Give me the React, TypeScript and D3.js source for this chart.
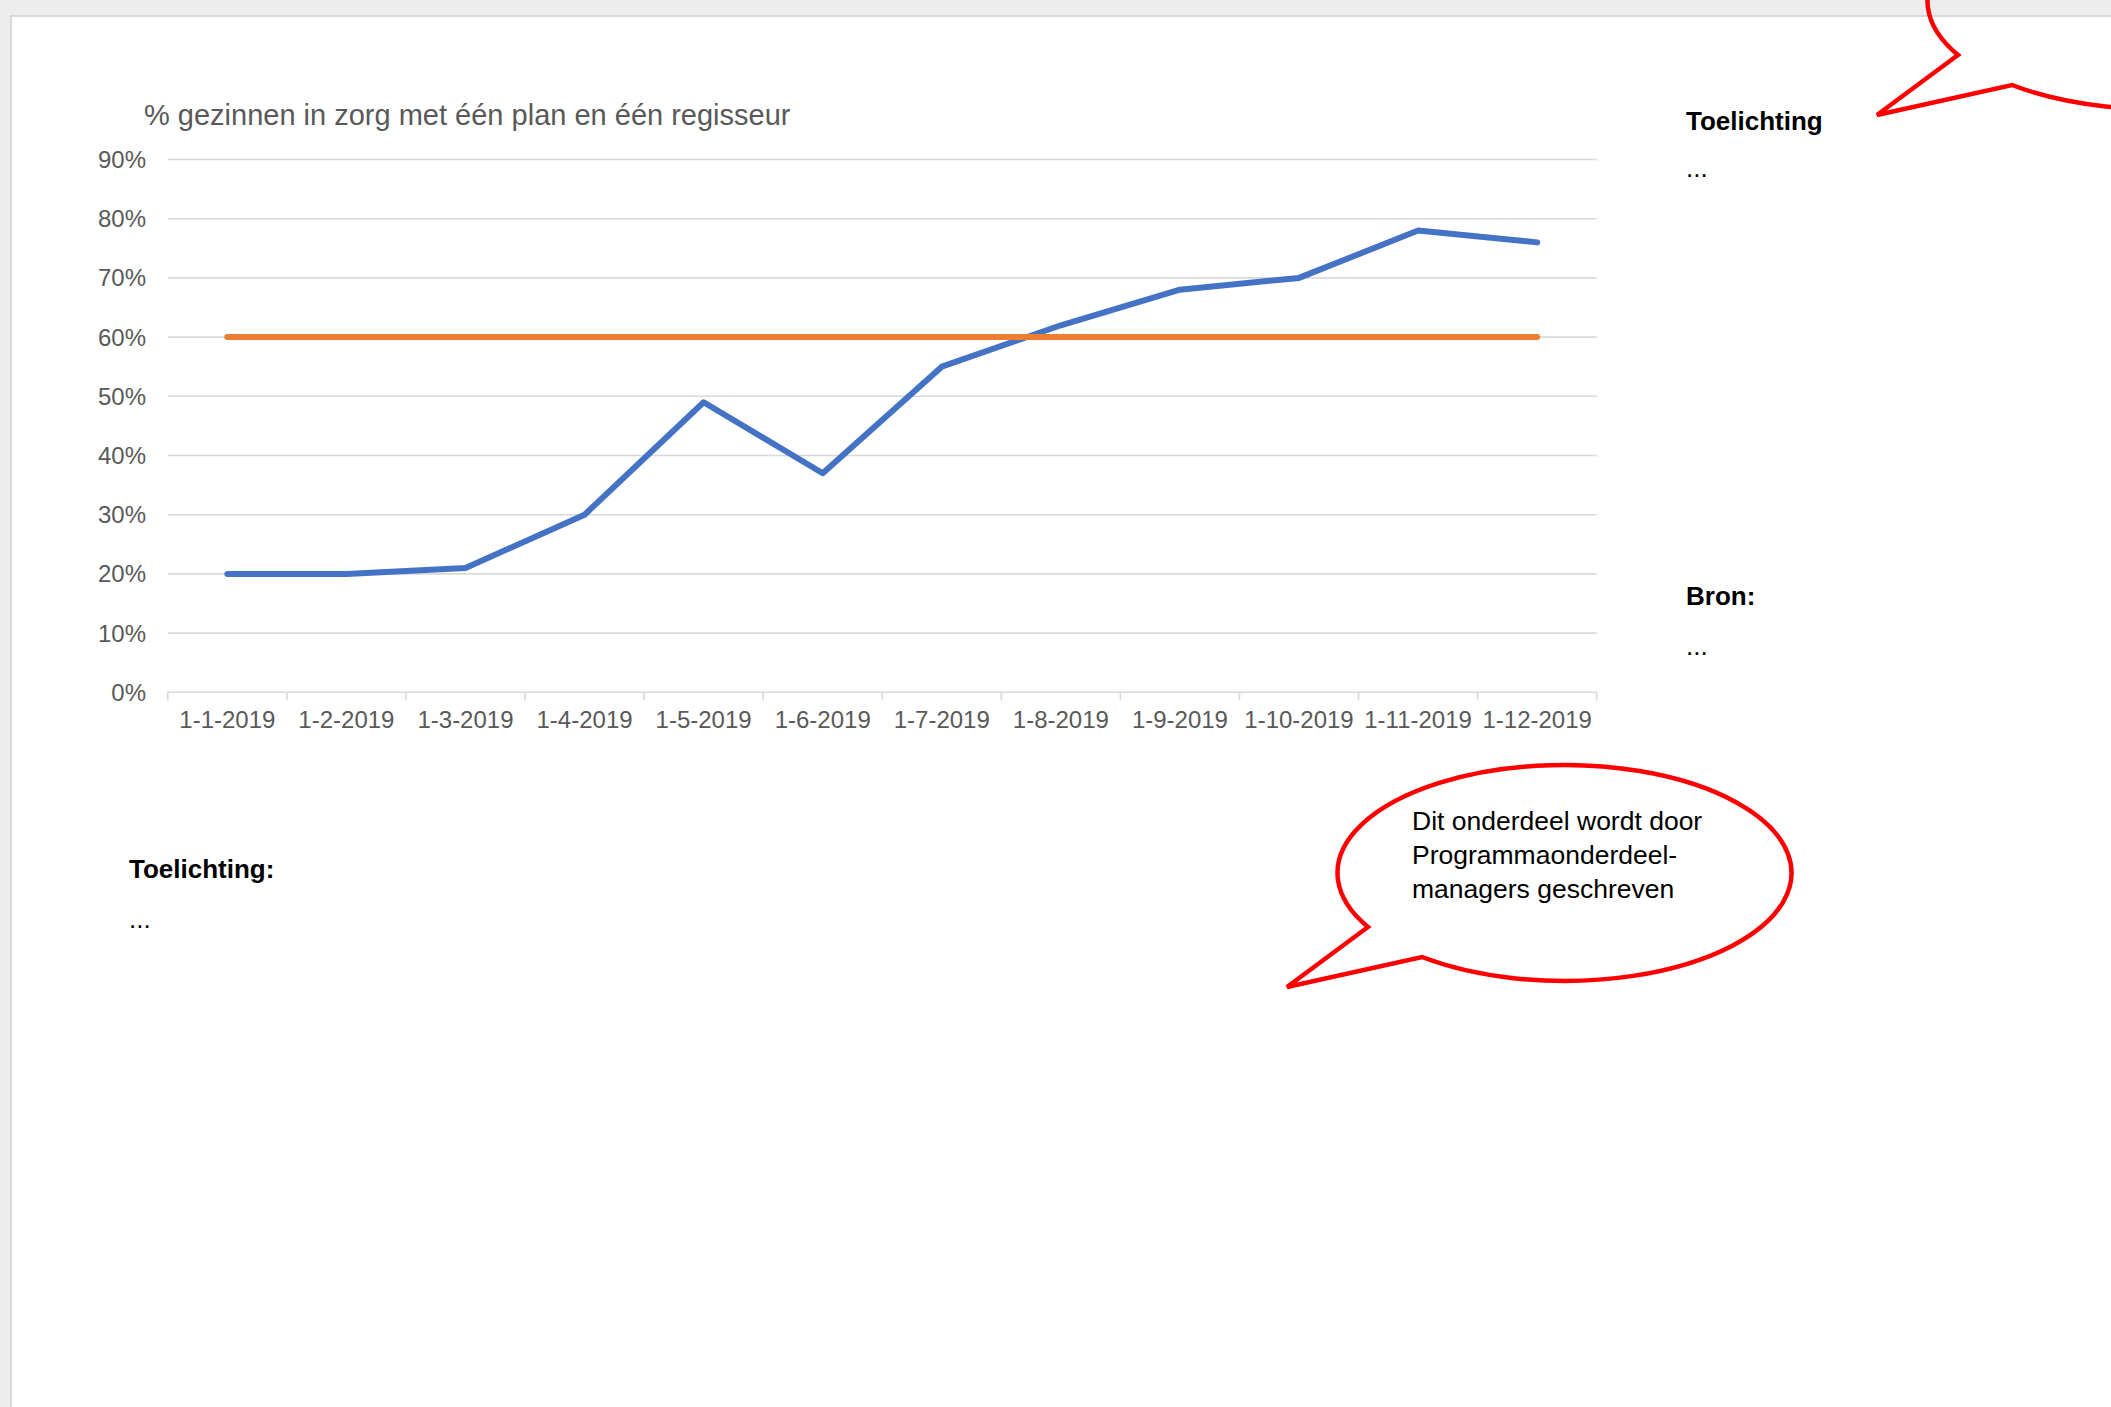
import React from 'react';
import * as d3 from 'd3';

const months = [
	'1-1-2019',
	'1-2-2019',
	'1-3-2019',
	'1-4-2019',
	'1-5-2019',
	'1-6-2019',
	'1-7-2019',
	'1-8-2019',
	'1-9-2019',
	'1-10-2019',
	'1-11-2019',
	'1-12-2019',
];
const actual = [0.2, 0.2, 0.21, 0.3, 0.49, 0.37, 0.55, 0.62, 0.68, 0.7, 0.78, 0.76];
const target = [0.6, 0.6, 0.6, 0.6, 0.6, 0.6, 0.6, 0.6, 0.6, 0.6, 0.6, 0.6];
const yTicks = [0, 0.1, 0.2, 0.3, 0.4, 0.5, 0.6, 0.7, 0.8, 0.9];

const W = 2111;
const H = 1407;
const FONT = '"Liberation Sans", Arial, sans-serif';
const GREY_TEXT = '#595959';
const GRID = '#D9D9D9';

// speech bubble: ellipse with a tail, tail points relative to the centre
const bubblePath = (cx: number, cy: number, rx: number, ry: number) => {
	const b1 = [cx - 193, cy + 54];
	const b2 = [cx - 139, cy + 84];
	const tip = [cx - 274, cy + 114];
	return `M${b2[0]},${b2[1]} A${rx},${ry} 0 1 0 ${b1[0]},${b1[1]} L${tip[0]},${tip[1]} Z`;
};

const App: React.FC = () => {
	const margin = { left: 167.8, right: W - 1596.7, top: 159.5, bottom: H - 692.3 };

	const x = d3
		.scaleBand<string>()
		.domain(months)
		.range([margin.left, W - margin.right])
		.padding(0);
	const y = d3
		.scaleLinear()
		.domain([0, 0.9])
		.range([H - margin.bottom, margin.top]);

	const cx = (i: number) => (x(months[i]) ?? 0) + x.bandwidth() / 2;
	const line = d3
		.line<number>()
		.x((_, i) => cx(i))
		.y((d) => y(d));

	const x0 = margin.left;
	const x1 = W - margin.right;
	const yBase = y(0);
	// tick marks on band edges
	const tickXs = [...months.map((m) => x(m) ?? 0), x1];

	return (
		<div style={{ position: 'absolute', left: 0, top: 0, width: W, height: H }}>
			<svg width={W} height={H} style={{ display: 'block' }} fontFamily={FONT}>
				{/* page background */}
				<rect x={0} y={0} width={W} height={H} fill="#EDEDED" />
				<rect x={11} y={16} width={W} height={H} fill="#fff" stroke="#CFCFCF" strokeWidth={1.5} />

				{/* chart title */}
				<text x={144} y={125} fontSize={29} fill={GREY_TEXT}>
					% gezinnen in zorg met één plan en één regisseur
				</text>

				{/* gridlines + y labels */}
				{yTicks.map((t) => (
					<g key={t}>
						<line x1={x0} x2={x1} y1={y(t)} y2={y(t)} stroke={GRID} strokeWidth={1.6} />
						<text
							x={146}
							y={y(t)}
							dy="0.35em"
							textAnchor="end"
							fontSize={24}
							fill={GREY_TEXT}>
							{d3.format('.0%')(t)}
						</text>
					</g>
				))}

				{/* x axis ticks + labels */}
				{tickXs.map((tx, i) => (
					<line key={i} x1={tx} x2={tx} y1={yBase} y2={yBase + 8} stroke={GRID} strokeWidth={1.6} />
				))}
				{months.map((m, i) => (
					<text key={m} x={cx(i)} y={728} textAnchor="middle" fontSize={24} fill={GREY_TEXT}>
						{m}
					</text>
				))}

				{/* series */}
				<path
					d={line(actual) ?? ''}
					fill="none"
					stroke="#4472C4"
					strokeWidth={6}
					strokeLinejoin="round"
					strokeLinecap="round"
				/>
				<path
					d={line(target) ?? ''}
					fill="none"
					stroke="#ED7D31"
					strokeWidth={6}
					strokeLinejoin="round"
					strokeLinecap="round"
				/>

				{/* right side notes */}
				<text x={1686} y={130} fontSize={26} fontWeight="bold" fill="#000">
					Toelichting
				</text>
				<text x={1686} y={177} fontSize={26} fill="#000">
					...
				</text>
				<text x={1686} y={605} fontSize={26} fontWeight="bold" fill="#000">
					Bron:
				</text>
				<text x={1686} y={655} fontSize={26} fill="#000">
					...
				</text>

				{/* bottom left notes */}
				<text x={129} y={878} fontSize={26} fontWeight="bold" fill="#000">
					Toelichting:
				</text>
				<text x={129} y={928} fontSize={26} fill="#000">
					...
				</text>

				{/* speech bubbles */}
				<path d={bubblePath(1561, 873, 227, 108)} fill="#fff" stroke="#FF0000" strokeWidth={4.5} />
				<text fontSize={26.5} fill="#000">
					<tspan x={1412} y={830}>Dit onderdeel wordt door</tspan>
					<tspan x={1412} y={864}>Programmaonderdeel-</tspan>
					<tspan x={1412} y={898}>managers geschreven</tspan>
				</text>
				<path d={bubblePath(2151, 1, 227, 108)} fill="none" stroke="#FF0000" strokeWidth={4.5} />
			</svg>
		</div>
	);
};

export default App;
